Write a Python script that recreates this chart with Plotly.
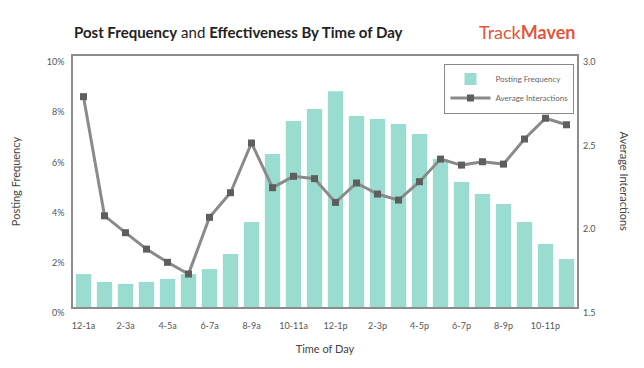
import plotly.graph_objects as go

categories = ["12-1a", "1-2a", "2-3a", "3-4a", "4-5a", "5-6a", "6-7a", "7-8a",
              "8-9a", "9-10a", "10-11a", "11-12a", "12-1p", "1-2p", "2-3p", "3-4p",
              "4-5p", "5-6p", "6-7p", "7-8p", "8-9p", "9-10p", "10-11p", "11-12p"]
posting_freq = [1.31, 1.0, 0.92, 1.0, 1.12, 1.31, 1.51, 2.11, 3.39, 6.1, 7.41, 7.89,
                8.6, 7.61, 7.49, 7.29, 6.89, 5.9, 4.98, 4.5, 4.1, 3.39, 2.51, 1.91]
avg_interactions = [2.757, 2.045, 1.944, 1.846, 1.767, 1.697, 2.036, 2.183, 2.48, 2.213,
                    2.281, 2.267, 2.125, 2.241, 2.175, 2.139, 2.249, 2.384, 2.348, 2.368,
                    2.354, 2.504, 2.628, 2.589]
tick_labels = categories[::2]
left_ticks = [0, 2, 4, 6, 8, 10]
left_tick_text = ["0%", "2%", "4%", "6%", "8%", "10%"]
right_ticks = [1.5, 2.0, 2.5, 3.0]
right_tick_text = ["1.5", "2.0", "2.5", "3.0"]

FONT = "Lato"
fig = go.Figure()
fig.add_trace(go.Bar(x=categories, y=posting_freq, name="Posting Frequency",
                     marker=dict(color="rgb(154,220,207)", line=dict(width=0)),
                     yaxis="y"))
fig.add_trace(go.Scatter(x=categories, y=avg_interactions, name="Average Interactions",
                         mode="lines+markers", yaxis="y2",
                         line=dict(color="#8a8a8a", width=3),
                         marker=dict(symbol="square", size=7, color="#5e5e5e")))

fig.update_layout(
    width=644, height=368,
    margin=dict(l=73, r=67, t=56, b=61, autoexpand=False),
    paper_bgcolor="white", plot_bgcolor="white",
    font=dict(family=FONT, color="#555", size=9),
    bargap=0.27,
    showlegend=True,
    legend=dict(x=0.995, y=0.97, xanchor="right", yanchor="top",
                bordercolor="#888", borderwidth=1, bgcolor="white",
                font=dict(size=8, color="#666"), tracegroupgap=4,
                itemwidth=40),
    xaxis=dict(type="category", range=[-0.5, len(categories) - 0.5],
               tickmode="array", tickvals=tick_labels, ticktext=tick_labels,
               showline=True, linecolor="#8c8c8c", linewidth=1.5, mirror=True,
               showgrid=False, ticks="", ticklabelstandoff=9,
               tickfont=dict(size=9, color="#555"), automargin=False,
               title=dict(text="Time of Day", font=dict(size=11, color="#444"), standoff=16)),
    yaxis=dict(range=[0, 10], tickvals=left_ticks, ticktext=left_tick_text,
               showline=True, linecolor="#8c8c8c", linewidth=1.5, mirror=True,
               showgrid=False, zeroline=False, ticks="", ticklabelshift=6,
               ticklabelstandoff=5, automargin=False,
               tickfont=dict(size=9, color="#555"),
               title=dict(text="Posting Frequency", font=dict(size=11, color="#444"), standoff=24)),
    yaxis2=dict(range=[1.5, 3.0], tickvals=right_ticks, ticktext=right_tick_text,
                overlaying="y", side="right", showgrid=False, zeroline=False, ticks="",
                ticklabelshift=6, ticklabelstandoff=5,
                tickfont=dict(size=9, color="#555"), showline=False,
                automargin=False),
)

fig.add_annotation(text="<b>Post Frequency</b> and <b>Effectiveness By Time of Day</b>",
                   xref="paper", yref="paper", x=-0.002, y=(307 - 32) / 251,
                   xanchor="left", yanchor="middle",
                   showarrow=False, font=dict(family=FONT, size=15, color="#222"))
fig.add_annotation(text="Track<b>Maven</b>", xref="paper", yref="paper",
                   x=1.0, y=(307 - 32) / 251, xanchor="right", yanchor="middle", showarrow=False,
                   font=dict(family=FONT, size=18, color="#e0583d"))
fig.add_annotation(text="Average Interactions", xref="paper", yref="paper",
                   x=1.0 + 47/504, y=0.5, xanchor="center", yanchor="middle",
                   textangle=90, showarrow=False, font=dict(size=11, color="#444"))

fig.write_html("out.html", config={"displayModeBar": False},
               post_script="document.body.style.margin='0';document.body.style.overflow='hidden';")
